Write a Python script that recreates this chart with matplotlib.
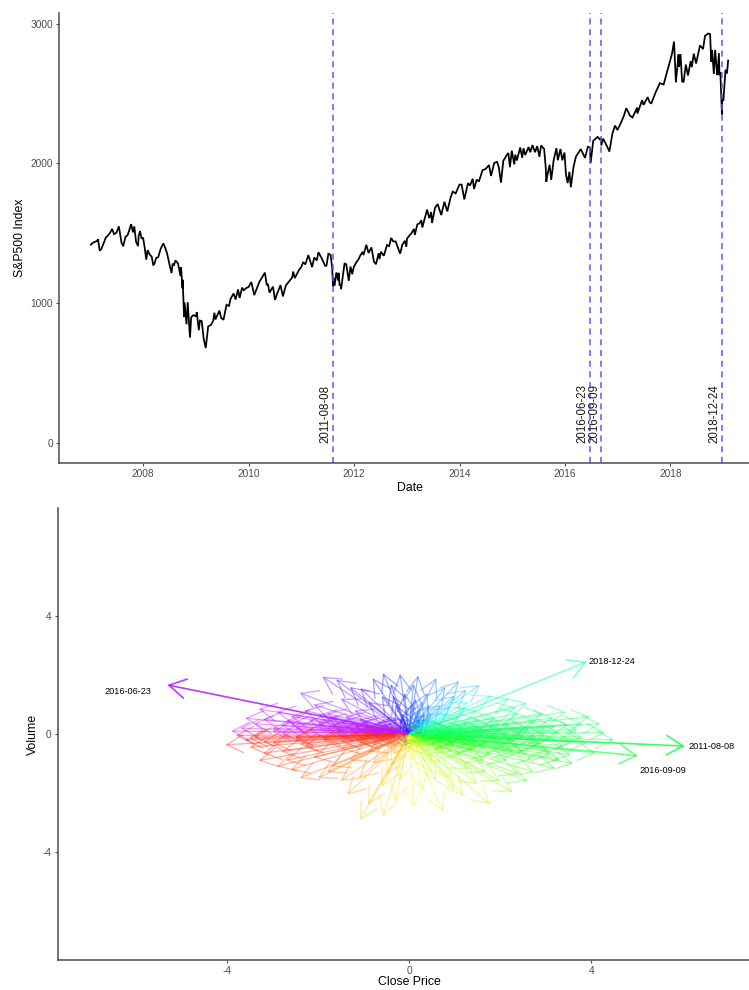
import colorsys
import datetime as dt
import numpy as np
import matplotlib
matplotlib.use('Agg')
import matplotlib.pyplot as plt
import matplotlib.dates as mdates
from matplotlib.patches import FancyArrowPatch

plt.rcParams['font.family'] = ['Liberation Sans', 'DejaVu Sans']
plt.rcParams['axes.unicode_minus'] = False

# ---------------- data: S&P500 close ----------------
spx_dates = [
    "2007-01-03", "2007-01-17", "2007-01-31", "2007-02-14", "2007-02-22", "2007-03-05", "2007-03-16", "2007-03-30",
    "2007-04-16", "2007-04-30", "2007-05-15", "2007-05-31", "2007-06-12", "2007-06-29", "2007-07-16", "2007-07-26",
    "2007-08-03", "2007-08-15", "2007-08-31", "2007-09-14", "2007-09-28", "2007-10-09", "2007-10-22", "2007-10-31",
    "2007-11-12", "2007-11-26", "2007-11-30", "2007-12-10", "2007-12-20", "2007-12-31",
    "2008-01-09", "2008-01-22", "2008-01-31", "2008-02-14", "2008-02-29", "2008-03-10", "2008-03-17", "2008-03-31",
    "2008-04-14", "2008-04-30", "2008-05-19", "2008-05-30", "2008-06-13", "2008-06-30", "2008-07-15", "2008-07-23",
    "2008-07-31", "2008-08-11", "2008-08-29", "2008-09-15", "2008-09-19", "2008-09-29", "2008-09-30", "2008-10-10",
    "2008-10-13", "2008-10-27", "2008-11-04", "2008-11-20", "2008-11-28", "2008-12-08", "2008-12-16", "2008-12-31",
    "2009-01-06", "2009-01-20", "2009-01-28", "2009-02-09", "2009-02-23", "2009-03-09", "2009-03-26", "2009-04-14",
    "2009-04-30", "2009-05-08", "2009-05-15", "2009-06-12", "2009-06-23", "2009-07-10", "2009-07-31", "2009-08-17",
    "2009-08-28", "2009-09-18", "2009-10-02", "2009-10-19", "2009-10-30", "2009-11-16", "2009-11-27", "2009-12-15",
    "2009-12-31",
    "2010-01-19", "2010-02-08", "2010-02-26", "2010-03-15", "2010-04-23", "2010-05-06", "2010-05-14", "2010-05-25",
    "2010-06-18", "2010-07-02", "2010-07-16", "2010-08-09", "2010-08-26", "2010-09-15", "2010-10-01", "2010-10-29",
    "2010-11-05", "2010-11-16", "2010-12-15", "2010-12-31",
    "2011-01-14", "2011-01-28", "2011-02-18", "2011-03-16", "2011-03-31", "2011-04-18", "2011-04-29", "2011-05-23",
    "2011-06-15", "2011-06-24", "2011-07-07", "2011-07-22", "2011-08-02", "2011-08-08", "2011-08-10", "2011-08-12",
    "2011-08-19", "2011-08-31", "2011-09-12", "2011-09-16", "2011-09-22", "2011-09-30", "2011-10-03", "2011-10-27",
    "2011-11-08", "2011-11-25", "2011-12-07", "2011-12-19", "2011-12-30",
    "2012-01-17", "2012-01-31", "2012-02-15", "2012-02-29", "2012-03-06", "2012-03-26", "2012-04-10", "2012-04-30",
    "2012-05-18", "2012-06-01", "2012-06-19", "2012-06-25", "2012-07-05", "2012-07-25", "2012-08-16", "2012-08-31",
    "2012-09-14", "2012-09-28", "2012-10-15", "2012-10-25", "2012-11-15", "2012-11-30", "2012-12-18", "2012-12-28",
    "2013-01-02", "2013-01-31", "2013-02-19", "2013-02-25", "2013-03-14", "2013-03-28", "2013-04-11", "2013-04-18",
    "2013-05-21", "2013-06-05", "2013-06-18", "2013-06-24", "2013-07-15", "2013-08-02", "2013-08-27", "2013-09-18",
    "2013-10-08", "2013-10-31", "2013-11-15", "2013-12-05", "2013-12-31",
    "2014-01-15", "2014-02-03", "2014-02-28", "2014-03-14", "2014-04-02", "2014-04-11", "2014-04-30", "2014-05-15",
    "2014-06-09", "2014-06-30", "2014-07-24", "2014-08-07", "2014-08-29", "2014-09-18", "2014-09-30", "2014-10-15",
    "2014-10-31", "2014-11-20", "2014-12-05", "2014-12-16", "2014-12-29",
    "2015-01-15", "2015-01-22", "2015-02-02", "2015-02-25", "2015-03-11", "2015-03-20", "2015-04-01", "2015-04-24",
    "2015-05-06", "2015-05-21", "2015-06-08", "2015-06-23", "2015-07-08", "2015-07-20", "2015-08-10", "2015-08-21",
    "2015-08-25", "2015-09-01", "2015-09-17", "2015-09-28", "2015-10-15", "2015-11-03", "2015-11-13", "2015-12-01",
    "2015-12-14", "2015-12-29",
    "2016-01-08", "2016-01-20", "2016-02-01", "2016-02-11", "2016-03-01", "2016-03-18", "2016-04-20", "2016-05-19",
    "2016-06-08", "2016-06-23", "2016-06-27", "2016-07-15", "2016-08-15", "2016-08-31", "2016-09-08", "2016-09-09",
    "2016-09-22", "2016-10-14", "2016-11-04", "2016-11-25", "2016-12-13", "2016-12-30",
    "2017-01-26", "2017-02-15", "2017-03-01", "2017-03-27", "2017-04-13", "2017-05-16", "2017-05-17", "2017-06-19",
    "2017-06-29", "2017-07-27", "2017-08-10", "2017-08-21", "2017-09-20", "2017-10-20", "2017-11-15", "2017-12-04",
    "2017-12-18",
    "2018-01-12", "2018-01-26", "2018-02-05", "2018-02-08", "2018-02-26", "2018-03-02", "2018-03-12", "2018-03-23",
    "2018-04-02", "2018-04-18", "2018-05-03", "2018-05-21", "2018-05-29", "2018-06-12", "2018-06-28", "2018-07-25",
    "2018-08-15", "2018-08-29", "2018-09-20", "2018-10-03", "2018-10-11", "2018-10-17", "2018-10-29", "2018-11-07",
    "2018-11-20", "2018-11-23", "2018-12-03", "2018-12-07", "2018-12-13", "2018-12-20", "2018-12-24", "2018-12-26",
    "2019-01-03", "2019-01-18", "2019-01-28", "2019-02-05",
]
spx_close = [
    1417, 1431, 1438, 1444, 1456, 1374, 1386, 1421,
    1468, 1482, 1501, 1531, 1493, 1503, 1549, 1483,
    1433, 1406, 1474, 1485, 1527, 1565, 1506, 1549,
    1439, 1407, 1481, 1515, 1461, 1468,
    1409, 1310, 1379, 1348, 1331, 1273, 1277, 1323,
    1329, 1386, 1427, 1400, 1360, 1280, 1214, 1282,
    1267, 1305, 1283, 1193, 1255, 1106, 1166, 899,
    1003, 848, 1005, 752, 896, 909, 913, 903,
    935, 805, 874, 870, 743, 677, 832, 842,
    873, 930, 882, 946, 895, 879, 987, 979,
    1029, 1068, 1025, 1097, 1036, 1110, 1091, 1107,
    1115,
    1150, 1056, 1104, 1150, 1217, 1128, 1136, 1074,
    1117, 1022, 1065, 1128, 1047, 1125, 1146, 1183,
    1225, 1178, 1236, 1258,
    1293, 1276, 1343, 1257, 1326, 1305, 1364, 1317,
    1265, 1268, 1353, 1345, 1254, 1119, 1121, 1179,
    1124, 1219, 1162, 1216, 1130, 1131, 1099, 1285,
    1276, 1159, 1261, 1206, 1258,
    1293, 1312, 1344, 1366, 1343, 1417, 1358, 1398,
    1295, 1278, 1357, 1314, 1367, 1338, 1415, 1407,
    1466, 1441, 1441, 1413, 1353, 1416, 1446, 1402,
    1462, 1498, 1530, 1488, 1563, 1569, 1593, 1541,
    1669, 1608, 1652, 1573, 1682, 1709, 1630, 1725,
    1656, 1757, 1798, 1785, 1848,
    1848, 1742, 1859, 1841, 1890, 1816, 1884, 1870,
    1951, 1960, 1988, 1910, 2003, 2011, 1972, 1862,
    2018, 2053, 2075, 1973, 2091,
    1993, 2063, 2021, 2114, 2040, 2108, 2060, 2117,
    2080, 2131, 2080, 2124, 2047, 2128, 2104, 1971,
    1868, 1914, 1990, 1882, 2023, 2109, 2023, 2103,
    2022, 2078,
    1922, 1859, 1940, 1829, 1978, 2050, 2102, 2040,
    2119, 2113, 2001, 2162, 2190, 2171, 2181, 2128,
    2177, 2133, 2085, 2213, 2271, 2239,
    2297, 2349, 2396, 2342, 2329, 2400, 2357, 2453,
    2419, 2475, 2438, 2428, 2508, 2575, 2565, 2639,
    2690,
    2786, 2873, 2649, 2581, 2780, 2691, 2783, 2588,
    2582, 2708, 2630, 2733, 2690, 2786, 2716, 2846,
    2819, 2914, 2931, 2926, 2728, 2809, 2641, 2814,
    2642, 2633, 2790, 2633, 2651, 2467, 2351, 2468,
    2448, 2671, 2644, 2737,
]
event_dates = ["2011-08-08", "2016-06-23", "2016-09-09", "2018-12-24"]
year_ticks = [2008, 2010, 2012, 2014, 2016, 2018]

# ---------------- data: standardized daily changes (arrow tips) ----------------
arrow_x = [
    # right / green
    3.97, 3.8, 4.1, 3.6, 3.2, 3.16, 2.6, 3.5, 3.4, 3.0, 3.3, 2.9, 2.8, 2.5, 2.7, 2.4, 2.2, 2.3, 2.0, 2.1,
    1.9, 1.8, 1.6, 1.7, 1.5, 1.4, 1.3, 1.2, 1.1, 1.0, 0.9, 0.8, 0.7, 0.6, 0.5, 0.4, 3.7, 3.9, 4.3, 3.55,
    3.05, 2.95, 2.65, 2.55, 2.35, 2.15, 1.95, 1.85, 1.65, 1.55, 1.45, 1.25, 1.15, 1.05, 0.95, 0.85, 0.75,
    0.65, 0.55, 0.45, 2.75, 3.3, 3.45, 2.2, 4.5, 4.2, 3.1, 2.45,
    1.0, 1.3, 1.6, 1.9, 2.2, 2.5, 2.8, 1.2, 1.5, 0.9, 2.0, 2.4, 3.0, 3.6, 1.1, 1.7, 2.6, 0.7, 3.2, 3.8,
    1.5, 2.3, 3.1, 1.0, 2.8,
    # upper right / blue
    1.56, 1.27, 1.0, 0.8, 0.6, 0.4, 0.2, 0.1, 0.3, 0.7, 1.3, 0.5, 0.9, 0.15, 1.8, 1.1, 0.35, 0.6, 0.2,
    0.05, 0.25, 0.45,
    # up / upper left
    -0.2, -0.57, -0.4, -0.8, -1.07, -0.6, -1.3, -1.6, -1.9, -0.3, -0.9, -1.5, -2.4, -2.1, -1.2, -0.5, -1.8,
    -0.1, -0.7, -1.1, -0.15, -0.35,
    # left / purple
    -3.6, -3.7, -3.2, -2.9, -2.6, -3.4, -2.8, -2.5, -2.2, -2.0, -1.8, -1.5, -1.3, -3.9, -3.0, -2.3, -1.6,
    -1.0, -0.8, -3.3,
    -1.0, -1.6, -2.2, -2.8, -1.2, -0.9, -2.0, -3.0, -1.7, -2.6, -0.6, -1.4, -2.0, -2.7, -1.0, -0.6, -1.8,
    # left / red-orange
    -4.03, -3.6, -3.8, -3.2, -3.5, -3.0, -2.8, -2.6, -2.4, -2.0, -2.7, -2.3, -2.1, -1.9, -1.7, -1.5, -1.3,
    -1.1, -0.9, -0.7, -0.5, -3.3, -2.9, -1.8, -3.4, -2.5,
    -1.3, -1.9, -2.5, -1.5, -2.4, -3.5, -1.1, -0.7, -3.2,
    # down / yellow
    -1.07, -0.57, -1.36, -0.9, -0.3, 0.1, 0.75, -0.6, -1.1, -0.2, 0.3, 0.5, -0.4, 0.1, -0.8, -1.5,
    0.0, -0.25, 0.3, -0.5, 0.6,
    # lower right / yellow-green
    2.28, 1.78, 2.0, 1.2, 1.5, 0.9, 1.3, 0.7, 2.4, 1.0, 1.7, 0.5, 2.6,
    # short moves around the origin
    0.3, -0.3, -0.3, 0.3, 0.2, -0.2, -0.2, 0.2, 0.6, -0.6, -0.6, 0.6, 1.0, -1.0, 0.8, -0.8, 0.15, -0.15,
    0.45, -0.45, 1.2, -1.2, 0.9, -0.9, 0.35, -0.35,
]
arrow_y = [
    0.58, -0.1, -0.65, -1.0, -1.16, 0.54, 1.05, 0.3, -0.4, 0.2, 0.05, -0.3, 0.45, -0.6, -0.85, 0.7, 0.3, -0.2, 0.1, -0.45,
    0.55, -0.7, 0.2, -0.3, 0.8, -0.55, 0.35, -0.1, 0.6, -0.4, 0.2, -0.2, 0.4, -0.3, 0.1, -0.1, 0.15, -0.3, 0.05, -0.7,
    -0.55, 0.7, 0.15, -0.05, 0.9, -0.9, -0.1, 0.25, -0.9, 0.5, -0.2, 0.9, -0.75, 0.1, -0.6, 0.7, -0.5,
    0.05, 0.5, -0.4, -1.3, -0.85, 0.75, 1.2, -0.2, 0.35, -0.15, 0.0,
    0.15, -0.05, 0.05, -0.15, 0.0, 0.1, -0.1, 0.25, -0.25, -0.1, 0.35, -0.35, -0.05, -0.25, -0.2, 0.1, 0.25, 0.15, 0.25, 0.35,
    -0.45, -0.6, -0.7, -0.3, -0.4,
    1.67, 1.5, 1.3, 1.6, 1.9, 1.4, 2.0, 1.7, 1.1, 1.0, 1.1, 0.7, 0.9, 1.2, 1.3, 1.8, 0.5, 0.35, 0.8,
    1.0, 0.55, 1.0,
    2.05, 2.07, 1.7, 1.9, 1.56, 1.3, 1.6, 1.85, 1.95, 1.0, 1.1, 1.2, 1.4, 1.0, 0.8, 0.6, 0.7,
    1.4, 0.4, 0.5, 0.7, 1.3,
    0.54, 0.2, 0.5, 0.75, 0.6, 0.35, 0.3, 0.2, 0.45, 0.3, 0.2, 0.4, 0.15, 0.1, 0.1, 0.8, 0.1,
    0.2, 0.1, 0.85,
    0.1, 0.05, 0.15, 0.05, 0.3, 0.25, 0.4, 0.2, 0.3, 0.35, 0.3, 0.6, 0.65, 0.45, 0.45, 0.5, 0.5,
    -0.37, -0.2, -0.05, -0.65, -0.45, -0.3, -0.6, -1.22, -1.5, -1.5, -0.9, -0.4, -0.8, -0.2, -1.1, -0.5, -0.9,
    -0.3, -0.6, -0.2, -0.4, -0.9, -1.1, -1.3, -0.1, -0.1,
    -0.05, -0.1, -0.15, -0.25, -0.35, -0.15, -0.15, -0.1, -0.25,
    -2.93, -2.8, -2.07, -2.4, -2.3, -2.5, -2.65, -1.8, -1.5, -1.6, -1.9, -1.3, -1.1, -0.9, -1.0, -1.6,
    -0.6, -0.9, -0.7, -1.4, -1.6,
    -1.97, -2.4, -1.6, -2.1, -1.7, -1.5, -1.2, -1.0, -1.35, -1.9, -1.3, -0.8, -1.6,
    0.2, 0.2, -0.2, -0.2, 0.5, 0.5, -0.5, -0.5, 0.1, 0.1, -0.1, -0.1, 0.05, -0.05, 0.3, -0.3, -0.3, 0.3,
    -0.15, 0.15, 0.2, -0.2, -0.05, 0.05, 0.7, -0.7,
]
event_x = [6.05, -5.30, 5.02, 3.90]
event_y = [-0.41, 1.67, -0.74, 2.46]
event_labels = ["2011-08-08", "2016-06-23", "2016-09-09", "2018-12-24"]

# colour wheel anchors (direction in degrees -> hue in degrees)
wheel_angle = [-180, -90, -45, 0, 30, 50, 90, 150, 180]
wheel_hue = [2, 58, 85, 138, 155, 200, 228, 272, 288]

# ---------------- styling helpers ----------------
SPINE = '#4d4d4d'
TICKTXT = '#4d4d4d'


def style_axes(ax):
    for s in ['top', 'right']:
        ax.spines[s].set_visible(False)
    for s in ['left', 'bottom']:
        ax.spines[s].set_color(SPINE)
        ax.spines[s].set_linewidth(1.1)
    ax.tick_params(axis='both', colors=SPINE, labelcolor=TICKTXT, labelsize=7.3,
                   length=2.5, width=0.8, pad=2)


def angle_color(x, y):
    th = np.degrees(np.arctan2(y, x))
    h = np.interp(th, wheel_angle, wheel_hue) / 360.0
    return colorsys.hsv_to_rgb(h, 0.9, 1.0)


W, H = 749, 990
fig = plt.figure(figsize=(W / 100, H / 100), dpi=100)

# ---------------- top panel ----------------
ax1 = fig.add_axes([59 / W, 1 - 463 / H, (760 - 59) / W, (463 - 13) / H])
dates = [dt.datetime.strptime(d, "%Y-%m-%d") for d in spx_dates]
ax1.plot(dates, spx_close, color='black', lw=1.25, solid_joinstyle='miter')
for d in event_dates:
    dd = dt.datetime.strptime(d, "%Y-%m-%d")
    ax1.axvline(dd, color='#5a5aff', lw=1.1, dashes=(4, 3))
    ax1.text(dd - dt.timedelta(days=8), 0, d, rotation=90, ha='right', va='bottom',
             fontsize=8.3, color='#1a1a1a')
x0 = mdates.date2num(dates[0]); x1 = mdates.date2num(dates[-1])
ax1.set_xlim(x0 - 0.05 * (x1 - x0), x1 + 0.05 * (x1 - x0))
ymax = max(spx_close)
ax1.set_ylim(-0.05 * ymax, ymax * 1.05)
ax1.set_xticks([mdates.date2num(dt.datetime(y, 1, 1)) for y in year_ticks])
ax1.set_xticklabels([str(y) for y in year_ticks])
ax1.set_yticks([0, 1000, 2000, 3000])
style_axes(ax1)
ax1.set_xlabel('Date', fontsize=8.8, color='black')
ax1.set_ylabel('S&P500 Index', fontsize=8.8, color='black')
ax1.xaxis.set_label_coords((410 - 59) / (760 - 59), -(488 - 463) / 450)
ax1.xaxis.label.set_va('center')
ax1.yaxis.set_label_coords(-(59 - 20) / (760 - 59), 0.5)
ax1.yaxis.label.set_va('center')

# ---------------- bottom panel ----------------
ax2 = fig.add_axes([58 / W, 1 - 960 / H, (760 - 58) / W, (960 - 508) / H])
for x, y in zip(arrow_x, arrow_y):
    c = angle_color(x, y)
    ax2.add_patch(FancyArrowPatch((0, 0), (x, y), arrowstyle='->,head_length=1.2,head_width=0.65',
                                  mutation_scale=10, color=c, alpha=0.4, lw=0.95,
                                  shrinkA=0, shrinkB=0))
event_alpha = [0.85, 0.85, 0.6, 0.5]
for x, y, a in zip(event_x, event_y, event_alpha):
    c = angle_color(x, y)
    ax2.add_patch(FancyArrowPatch((0, 0), (x, y), arrowstyle='->,head_length=1.2,head_width=0.7',
                                  mutation_scale=10, color=c, alpha=a, lw=1.2,
                                  shrinkA=0, shrinkB=0))
label_offsets = {"2011-08-08": ((2.5, 0), 'left', 'center'),
                 "2016-06-23": ((-11.5, -5), 'right', 'center'),
                 "2016-09-09": ((18, -10.5), 'center', 'center'),
                 "2018-12-24": ((1.5, 0.5), 'left', 'center')}
for x, y, lab in zip(event_x, event_y, event_labels):
    off, ha, va = label_offsets[lab]
    ax2.annotate(lab, (x, y), xytext=off, textcoords='offset points', ha=ha, va=va,
                 fontsize=6.6, color='black')
ax2.set_xlim(-7.7, 7.7)
ax2.set_ylim(-7.69, 7.69)
ax2.set_xticks([-4, 0, 4])
ax2.set_yticks([-4, 0, 4])
style_axes(ax2)
ax2.set_xlabel('Close Price', fontsize=8.8, color='black')
ax2.set_ylabel('Volume', fontsize=8.8, color='black')
ax2.xaxis.set_label_coords((409 - 58) / (760 - 58), -(982 - 960) / 452)
ax2.xaxis.label.set_va('center')
ax2.yaxis.set_label_coords(-(58 - 33) / (760 - 58), 0.5)
ax2.yaxis.label.set_va('center')

fig.savefig('out.png', dpi=100)
